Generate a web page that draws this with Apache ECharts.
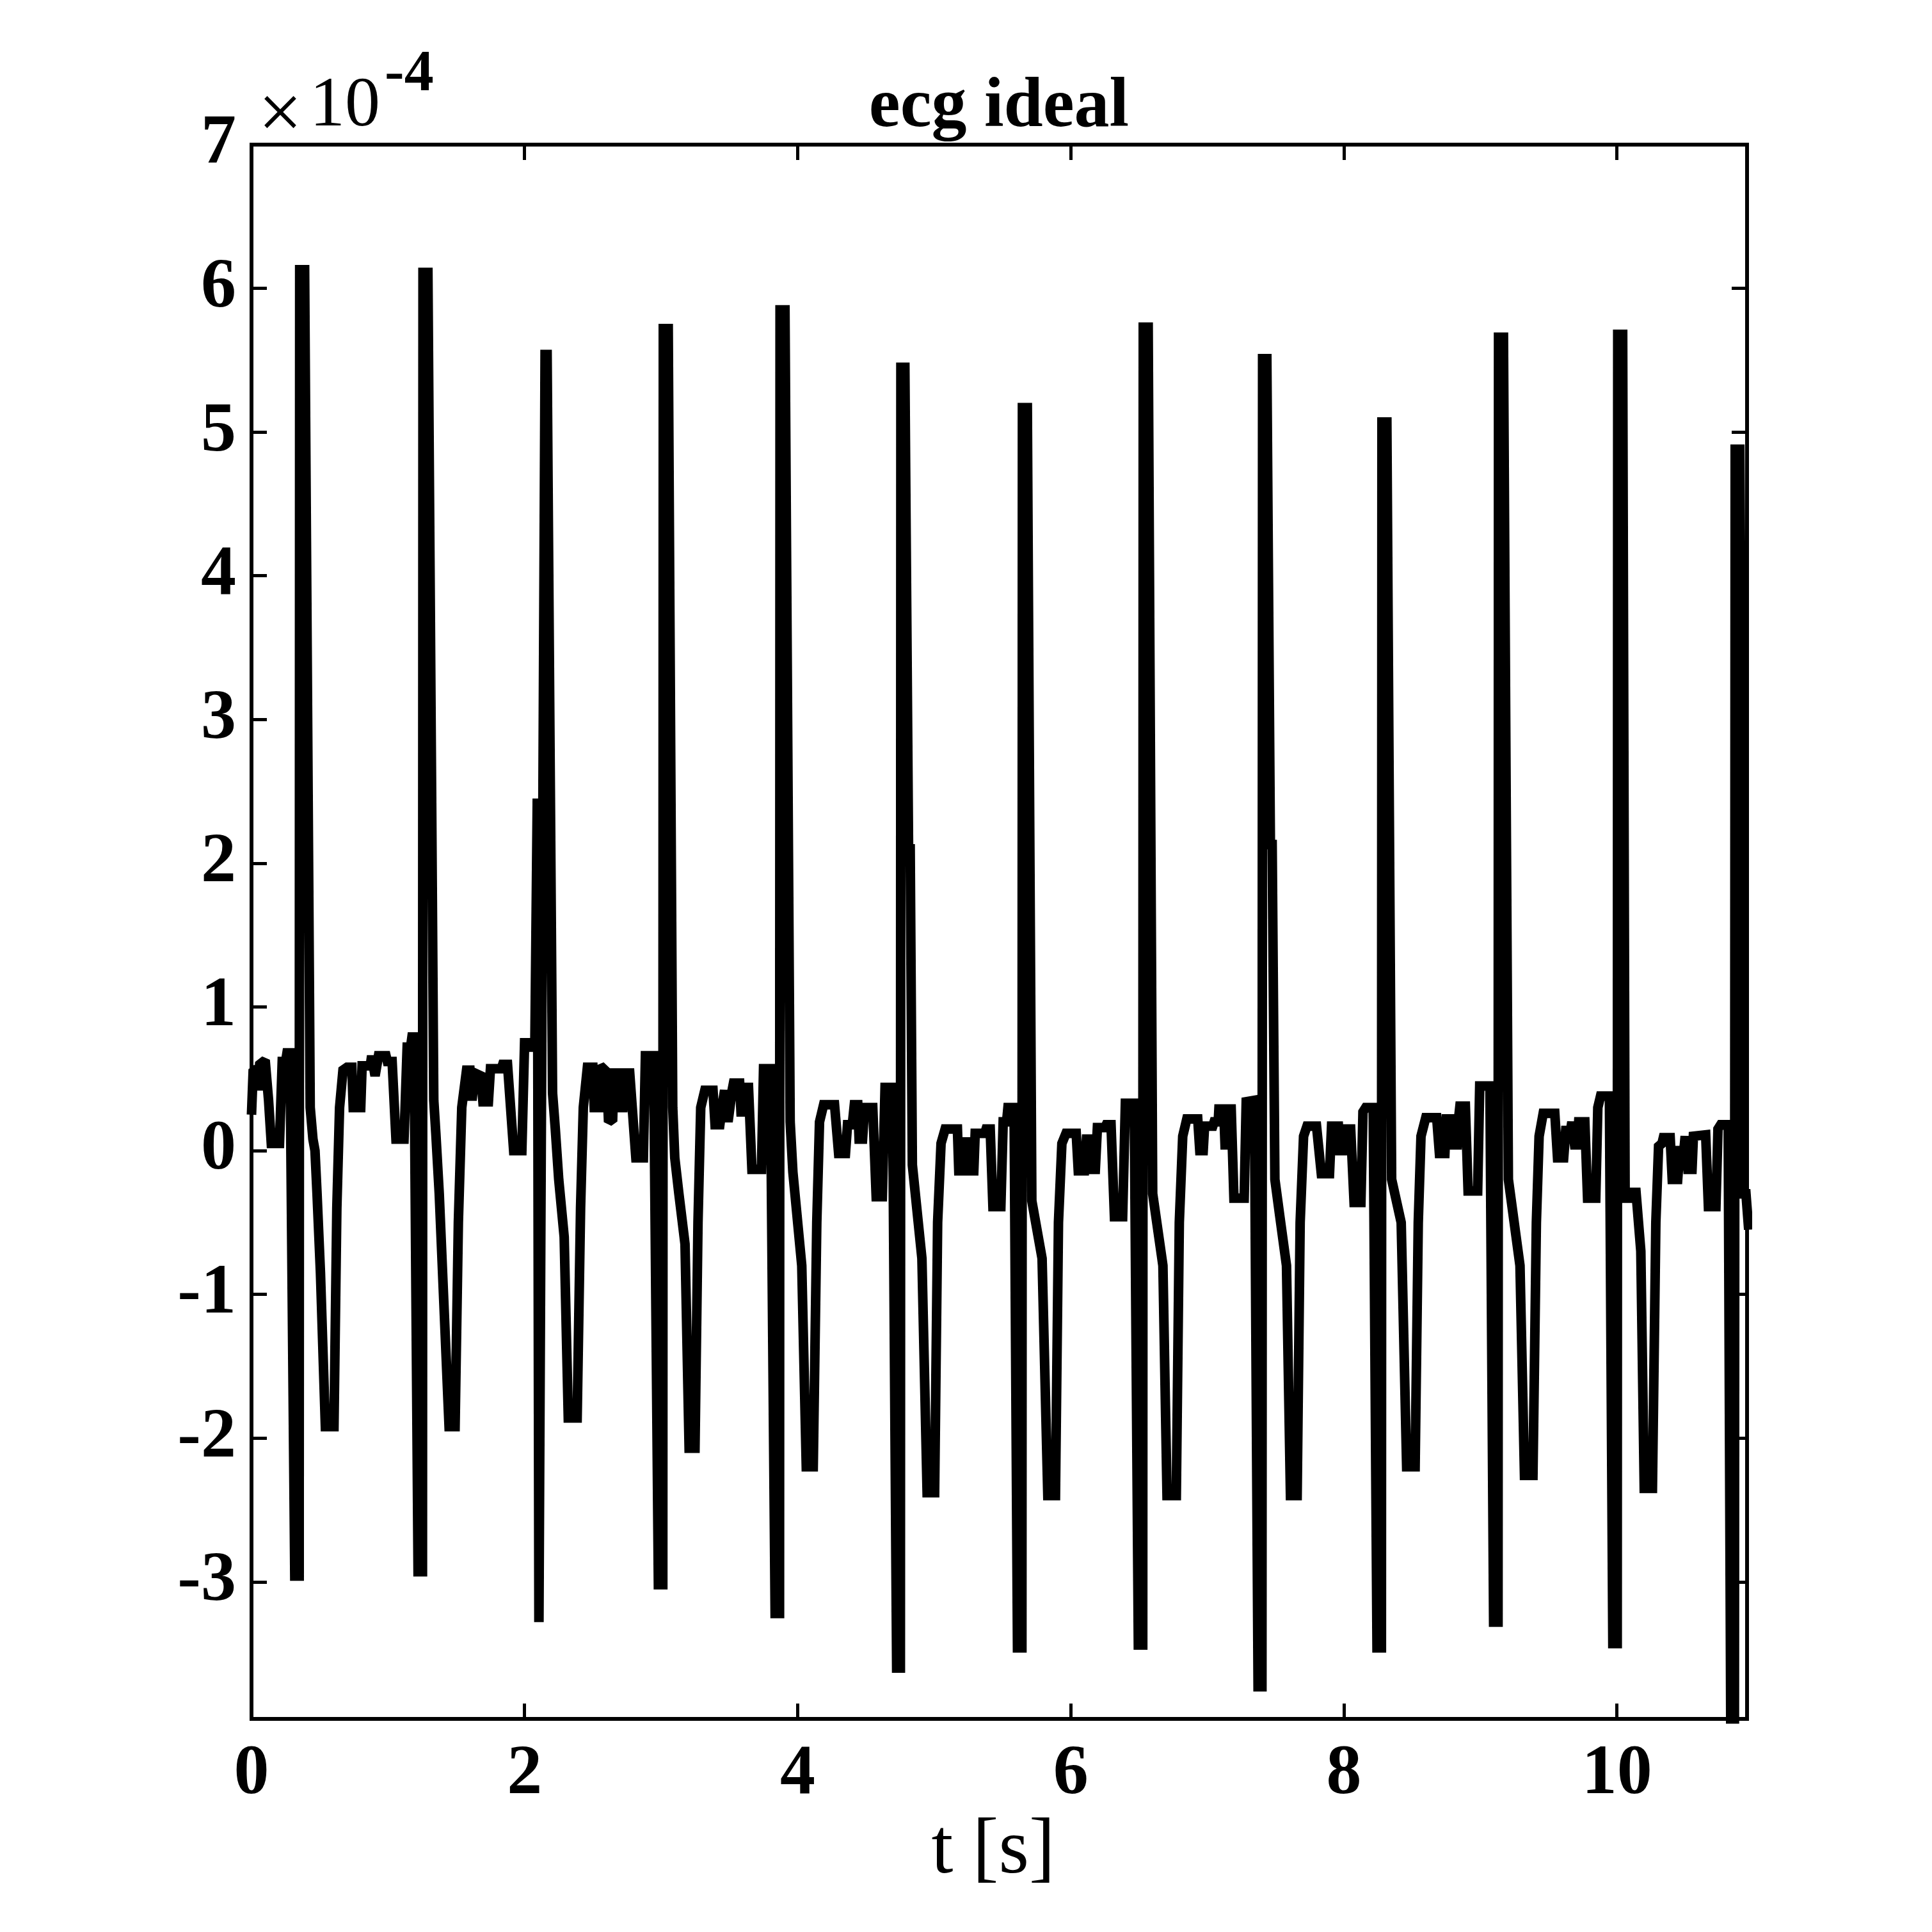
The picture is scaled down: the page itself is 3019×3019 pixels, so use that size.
<!DOCTYPE html>
<html>
<head>
<meta charset="utf-8">
<title>ecg ideal</title>
<script src="https://cdn.jsdelivr.net/npm/echarts@6/dist/echarts.min.js"></script>
<style>
    html, body { margin: 0; padding: 0; background: #fff; }
    #chart { width: 3019px; height: 3019px; }
</style>
</head>
<body>
<div id="chart"></div>
<script>
// [t in s, ecg in units of 1e-4], one array per heart beat
const beat01 = [
    [0.000, 0.25], [0.012, 0.55], [0.040, 0.57], [0.050, 0.42], [0.060, 0.60], [0.100, 0.63], [0.125, 0.35],
    [0.145, 0.05], [0.205, 0.05], [0.225, 0.62], [0.250, 0.62], [0.260, 0.68], [0.282, 0.68],
    [0.317, -2.96], [0.349, -2.96], [0.353, 6.13], [0.389, 6.13], [0.430, 0.30],
    [0.450, 0.08], [0.465, 0.00], [0.480, -0.30], [0.505, -0.85], [0.541, -1.92], [0.604, -1.92],
    [0.625, -0.40], [0.645, 0.30], [0.670, 0.56]
]
const beat02 = [
    [0.700, 0.58], [0.735, 0.58], [0.745, 0.30], [0.800, 0.30], [0.810, 0.59], [0.870, 0.59], [0.880, 0.66],
    [0.905, 0.52], [0.930, 0.66], [0.985, 0.66], [0.995, 0.62], [1.030, 0.62], [1.058, 0.08], [1.117, 0.08],
    [1.140, 0.72], [1.165, 0.72], [1.175, 0.79], [1.190, 0.79],
    [1.220, -2.93], [1.252, -2.93], [1.256, 6.11], [1.292, 6.11], [1.335, 0.35],
    [1.350, 0.12], [1.375, -0.30], [1.447, -1.92], [1.491, -1.92], [1.515, -0.50], [1.540, 0.30], [1.575, 0.56]
]
const beat03 = [
    [1.600, 0.56], [1.615, 0.35], [1.635, 0.54], [1.680, 0.52], [1.695, 0.34], [1.735, 0.34], [1.750, 0.57],
    [1.830, 0.57], [1.840, 0.60], [1.875, 0.60], [1.920, 0.00], [1.980, 0.00], [2.000, 0.75], [2.040, 0.75],
    [2.050, 0.72], [2.075, 0.72],
    [2.093, 2.45], [2.105, -3.28], [2.150, 5.54], [2.165, 5.54], [2.205, 0.40],
    [2.225, 0.15], [2.250, -0.20], [2.290, -0.60], [2.320, -1.86], [2.385, -1.86], [2.410, -0.40], [2.430, 0.30],
    [2.460, 0.58]
]
const beat04 = [
    [2.500, 0.58], [2.510, 0.30], [2.545, 0.30], [2.555, 0.59], [2.600, 0.55], [2.615, 0.20], [2.645, 0.22],
    [2.655, 0.54], [2.690, 0.54], [2.700, 0.30], [2.720, 0.30], [2.730, 0.54], [2.770, 0.54], [2.815, -0.05],
    [2.870, -0.05], [2.885, 0.66], [2.945, 0.66],
    [2.980, -3.02], [3.012, -3.02], [3.016, 5.72], [3.052, 5.72], [3.085, 0.30],
    [3.100, -0.05], [3.130, -0.30], [3.175, -0.65], [3.205, -2.07], [3.248, -2.07], [3.270, -0.50], [3.290, 0.30],
    [3.320, 0.42]
]
const beat05 = [
    [3.380, 0.42], [3.395, 0.18], [3.430, 0.18], [3.450, 0.33], [3.465, 0.42], [3.490, 0.20], [3.520, 0.42],
    [3.530, 0.47], [3.575, 0.47], [3.585, 0.27], [3.610, 0.27], [3.625, 0.44], [3.640, 0.44], [3.665, -0.13],
    [3.735, -0.13], [3.750, 0.57], [3.800, 0.57],
    [3.835, -3.22], [3.867, -3.22], [3.871, 5.85], [3.907, 5.85], [3.945, 0.20],
    [3.965, -0.15], [4.030, -0.80], [4.063, -2.20], [4.114, -2.20], [4.140, -0.50], [4.160, 0.20], [4.190, 0.32]
]
const beat06 = [
    [4.270, 0.32], [4.300, -0.02], [4.350, -0.02], [4.365, 0.18], [4.400, 0.18], [4.415, 0.32], [4.440, 0.32],
    [4.450, 0.08], [4.475, 0.08], [4.490, 0.30], [4.550, 0.30], [4.575, -0.32], [4.620, -0.32], [4.640, 0.44],
    [4.695, 0.44],
    [4.725, -3.60], [4.752, -3.60], [4.756, 5.45], [4.785, 5.45], [4.812, 2.10], [4.824, 2.10], [4.840, -0.10],
    [4.910, -0.75], [4.948, -2.38], [5.003, -2.38], [5.025, -0.50], [5.050, 0.05], [5.080, 0.15]
]
const beat07 = [
    [5.170, 0.15], [5.180, -0.14], [5.220, -0.14], [5.230, 0.06], [5.260, 0.06], [5.270, -0.14], [5.290, -0.14],
    [5.300, 0.12], [5.370, 0.12], [5.380, 0.15], [5.410, 0.15], [5.430, -0.39], [5.488, -0.39], [5.505, 0.20],
    [5.530, 0.20], [5.540, 0.30], [5.585, 0.30],
    [5.610, -3.46], [5.642, -3.46], [5.646, 5.17], [5.682, 5.17], [5.715, -0.35],
    [5.790, -0.75], [5.832, -2.40], [5.888, -2.40], [5.910, -0.50], [5.935, 0.05], [5.965, 0.12]
]
const beat08 = [
    [6.040, 0.12], [6.055, -0.14], [6.100, -0.14], [6.115, 0.08], [6.150, 0.08], [6.160, -0.13], [6.180, -0.13],
    [6.195, 0.16], [6.250, 0.16], [6.260, 0.18], [6.295, 0.18], [6.320, -0.46], [6.380, -0.46], [6.400, 0.33],
    [6.465, 0.33],
    [6.495, -3.44], [6.527, -3.44], [6.531, 5.73], [6.567, 5.73], [6.600, -0.30],
    [6.675, -0.80], [6.705, -2.40], [6.773, -2.40], [6.795, -0.50], [6.820, 0.10], [6.850, 0.22]
]
const beat09 = [
    [6.930, 0.22], [6.945, 0.00], [6.970, 0.00], [6.980, 0.17], [7.040, 0.17], [7.050, 0.20], [7.080, 0.20],
    [7.085, 0.29], [7.120, 0.29], [7.130, 0.04], [7.155, 0.04], [7.165, 0.29], [7.175, 0.29], [7.195, -0.33],
    [7.270, -0.33], [7.285, 0.34], [7.345, 0.35],
    [7.372, -3.73], [7.400, -3.73], [7.405, 5.51], [7.436, 5.51], [7.462, 2.13], [7.475, 2.13], [7.495, -0.20],
    [7.530, -0.45], [7.580, -0.80], [7.609, -2.40], [7.658, -2.40], [7.680, -0.50], [7.705, 0.10], [7.730, 0.17]
]
const beat10 = [
    [7.800, 0.17], [7.835, -0.16], [7.895, -0.16], [7.910, 0.17], [7.960, 0.17], [7.970, 0.00], [7.990, 0.00],
    [8.000, 0.15], [8.050, 0.15], [8.075, -0.36], [8.125, -0.36], [8.140, 0.27], [8.160, 0.30], [8.215, 0.30],
    [8.243, -3.46], [8.275, -3.46], [8.279, 5.07], [8.315, 5.07], [8.350, -0.20],
    [8.420, -0.50], [8.460, -2.20], [8.522, -2.20], [8.545, -0.50], [8.565, 0.10], [8.600, 0.23]
]
const beat11 = [
    [8.680, 0.23], [8.700, -0.02], [8.740, -0.02], [8.750, 0.22], [8.800, 0.22], [8.810, 0.04], [8.830, 0.04],
    [8.840, 0.22], [8.850, 0.31], [8.890, 0.31], [8.910, -0.28], [8.980, -0.28], [8.995, 0.45], [9.070, 0.45],
    [9.097, -3.28], [9.129, -3.28], [9.133, 5.66], [9.169, 5.66], [9.205, -0.20],
    [9.290, -0.80], [9.323, -2.26], [9.385, -2.26], [9.410, -0.50], [9.430, 0.10], [9.460, 0.26]
]
const beat12 = [
    [9.545, 0.26], [9.565, -0.05], [9.610, -0.05], [9.625, 0.14], [9.660, 0.14], [9.670, 0.20], [9.690, 0.04],
    [9.710, 0.04], [9.720, 0.20], [9.765, 0.20], [9.785, -0.33], [9.845, -0.33], [9.860, 0.30], [9.880, 0.38],
    [9.945, 0.38],
    [9.970, -3.43], [10.002, -3.43], [10.006, 5.68], [10.042, 5.68], [10.060, -0.33], [10.090, -0.33],
    [10.095, -0.29], [10.140, -0.29],
    [10.175, -0.70], [10.200, -2.35], [10.260, -2.35], [10.285, -0.50], [10.305, 0.03], [10.330, 0.05]
]
const beat13 = [
    [10.340, 0.09], [10.390, 0.09], [10.405, -0.20], [10.445, -0.20], [10.460, 0.00], [10.490, 0.00],
    [10.500, 0.10], [10.520, -0.13], [10.550, -0.13], [10.560, 0.10], [10.650, 0.11], [10.670, -0.39],
    [10.725, -0.39], [10.740, 0.15], [10.760, 0.18], [10.815, 0.18],
    [10.835, -4.30], [10.860, -4.30], [10.866, 4.88], [10.900, 4.88], [10.930, -0.30], [10.945, -0.30],
    [10.965, -0.55]
]

const xTicks = [0, 2, 4, 6, 8, 10]
const yTicks = [-3, -2, -1, 0, 1, 2, 3, 4, 5, 6, 7]

const ecgData = [].concat(beat01, beat02, beat03, beat04, beat05, beat06, beat07,
    beat08, beat09, beat10, beat11, beat12, beat13)

const serif = '"Liberation Serif", "Times New Roman", serif'
const xMin = 0, xMax = 10.953
const yMin = -3.954, yMax = 7

function boxAxis(position, min, max, ticks, withLabels, labelMargin) {
    return {
        type: 'value',
        position: position,
        min: min,
        max: max,
        axisLine: {
            show: true,
            onZero: false,
            lineStyle: { color: '#000', width: 6, cap: 'square' }
        },
        axisTick: {
            show: true,
            inside: true,
            length: 24,
            customValues: ticks,
            lineStyle: { color: '#000', width: 5 }
        },
        axisLabel: {
            show: withLabels,
            customValues: ticks,
            margin: labelMargin,
            color: '#000',
            fontFamily: serif,
            fontWeight: 'bold',
            fontSize: 110
        },
        splitLine: { show: false }
    }
}

const chart = echarts.init(document.getElementById('chart'))
const option = {
    backgroundColor: '#fff',
    animation: false,
    grid: {
        left: 393,
        right: 289,
        top: 226,
        bottom: 333,
        containLabel: false
    },
    xAxis: [
        boxAxis('bottom', xMin, xMax, xTicks, true, 33),
        boxAxis('top', xMin, xMax, xTicks, false, 0)
    ],
    yAxis: [
        boxAxis('left', yMin, yMax, yTicks, true, 24),
        boxAxis('right', yMin, yMax, yTicks, false, 0)
    ],
    graphic: [
        {
            type: 'text', x: 1561, y: 169,
            style: { text: 'ecg ideal', fill: '#000', font: 'bold 110px ' + serif, align: 'center', verticalAlign: 'middle' }
        },
        {
            type: 'text', x: 438, y: 184,
            style: { text: '\u00d7', fill: '#000', font: '122px ' + serif, align: 'center', verticalAlign: 'middle' }
        },
        {
            type: 'text', x: 484, y: 167,
            style: { text: '10', fill: '#000', font: '110px ' + serif, align: 'left', verticalAlign: 'middle' }
        },
        {
            type: 'text', x: 601, y: 117,
            style: { text: '-4', fill: '#000', font: 'bold 92px ' + serif, align: 'left', verticalAlign: 'middle' }
        },
        {
            type: 'text', x: 1552, y: 2894,
            style: { text: 't [s]', fill: '#000', font: '122px ' + serif, align: 'center', verticalAlign: 'middle' }
        }
    ],
    series: [
        {
            type: 'line',
            xAxisIndex: 0,
            yAxisIndex: 0,
            data: ecgData,
            showSymbol: false,
            symbol: 'none',
            clip: true,
            lineStyle: { color: '#000', width: 15, join: 'miter', miterLimit: 2 }
        }
    ]
}
chart.setOption(option)
</script>
</body>
</html>
